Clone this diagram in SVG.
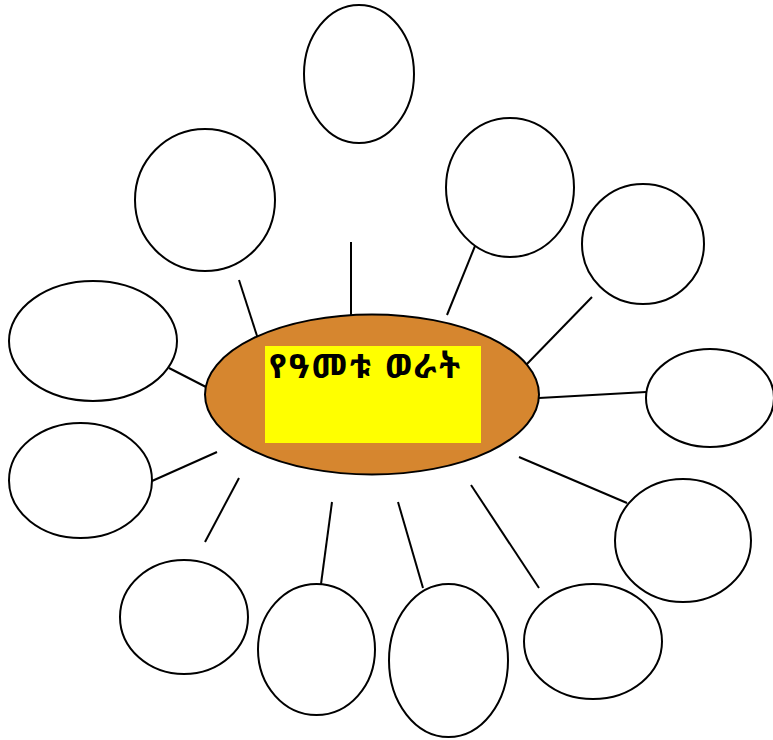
<svg xmlns="http://www.w3.org/2000/svg" width="773" height="740" viewBox="0 0 773 740">
<style>
.n{fill:#fff;stroke:#000;stroke-width:2}
.c line{stroke:#000;stroke-width:2}
.t{font-family:"Noto Sans Ethiopic","Abyssinica SIL","DejaVu Sans","Noto Sans",sans-serif;font-weight:bold;font-size:34px;fill:#000}
</style>
<rect width="773" height="740" fill="#fff"/>
<g class="c" id="connectors">
<line x1="351" y1="242" x2="351" y2="315"/>
<line x1="239" y1="280" x2="258" y2="339"/>
<line x1="169" y1="368" x2="206" y2="387"/>
<line x1="152" y1="481" x2="217" y2="452"/>
<line x1="239" y1="478" x2="205" y2="542"/>
<line x1="332" y1="502" x2="321" y2="584"/>
<line x1="398" y1="502" x2="423" y2="588"/>
<line x1="471" y1="485" x2="539" y2="588"/>
<line x1="519" y1="457" x2="627" y2="503"/>
<line x1="539" y1="398" x2="646" y2="392"/>
<line x1="525" y1="366" x2="592" y2="297"/>
<line x1="447" y1="315" x2="475" y2="246"/>
</g>
<g id="center">
<ellipse cx="372" cy="394.5" rx="167" ry="80" fill="#d6862f" stroke="#000" stroke-width="2"/>
<rect x="265" y="346" width="216" height="97" fill="#ffff00"/>
<text class="t" x="269" y="378" textLength="191" lengthAdjust="spacing">የዓመቱ ወራት</text>
</g>
<g id="n1"><ellipse class="n" cx="359" cy="74" rx="55" ry="69"/></g>
<g id="n2"><ellipse class="n" cx="205" cy="200" rx="70" ry="71"/></g>
<g id="n3"><ellipse class="n" cx="510" cy="187.5" rx="64" ry="69.5"/></g>
<g id="n4"><ellipse class="n" cx="643" cy="244" rx="61" ry="60"/></g>
<g id="n5"><ellipse class="n" cx="710" cy="398" rx="64" ry="49"/></g>
<g id="n6"><ellipse class="n" cx="683" cy="540.5" rx="68" ry="61.5"/></g>
<g id="n7"><ellipse class="n" cx="593" cy="641.5" rx="69" ry="57.5"/></g>
<g id="n8"><ellipse class="n" cx="448.5" cy="660.5" rx="59.5" ry="76.5"/></g>
<g id="n9"><ellipse class="n" cx="316.5" cy="649.5" rx="58.5" ry="65.5"/></g>
<g id="n10"><ellipse class="n" cx="184" cy="617" rx="64" ry="57"/></g>
<g id="n11"><ellipse class="n" cx="80.5" cy="480.5" rx="71.5" ry="57.5"/></g>
<g id="n12"><ellipse class="n" cx="93" cy="341" rx="84" ry="60"/></g>
</svg>
